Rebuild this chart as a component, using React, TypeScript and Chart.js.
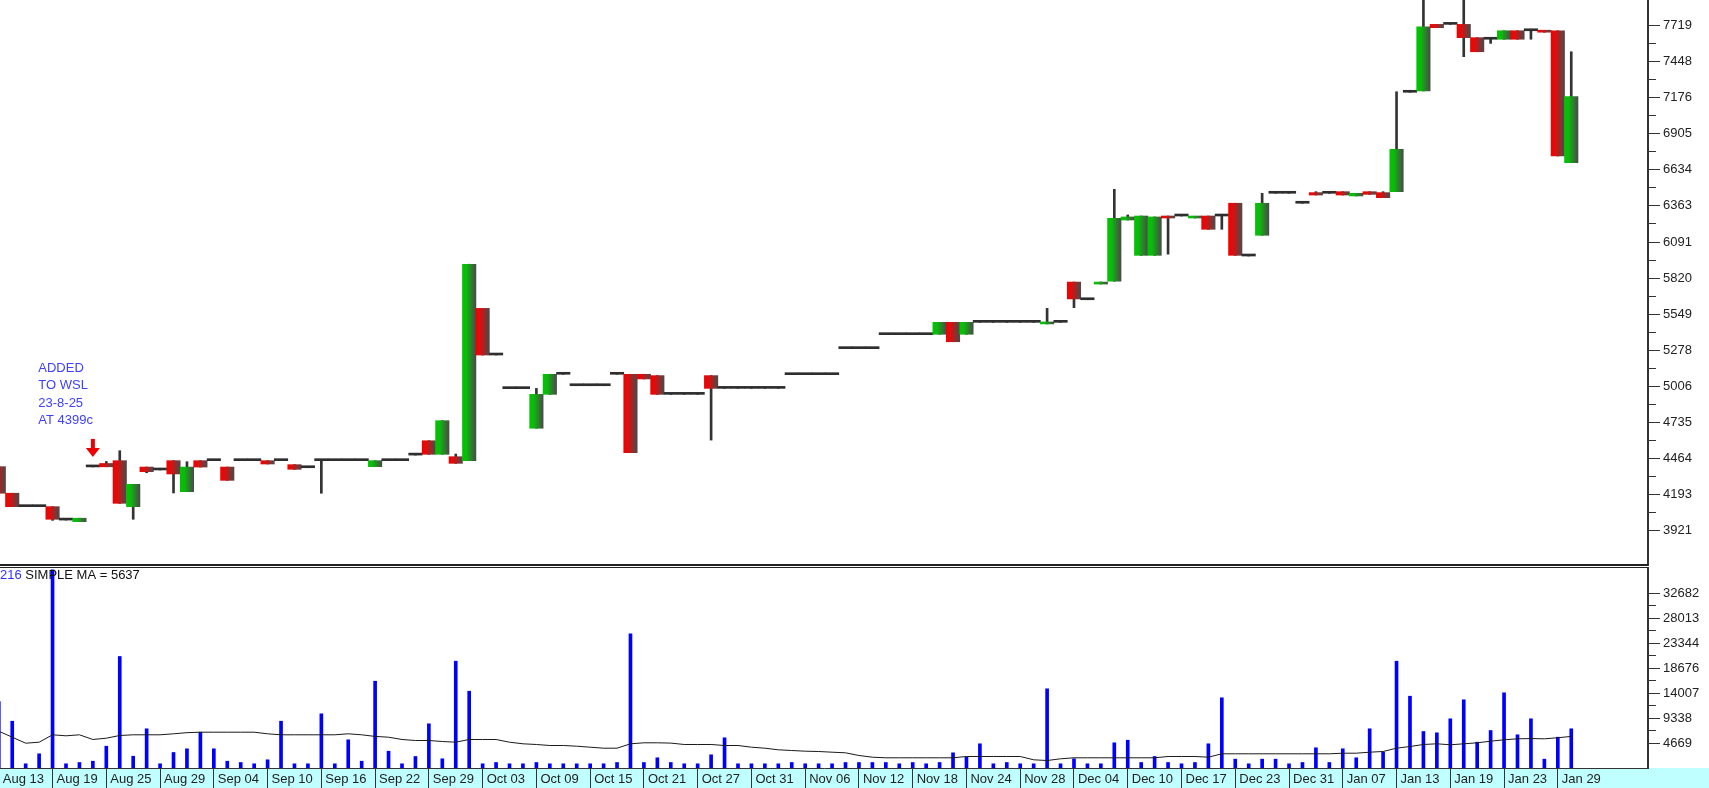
import React, { useEffect, useRef } from 'react';
import { Chart, registerables } from 'chart.js';

Chart.register(...registerables);

// ---------- DATA ----------
const dates = [
  'Aug 13', 'Aug 14', 'Aug 15', 'Aug 18', 'Aug 19', 'Aug 20', 'Aug 21', 'Aug 22', 'Aug 25', 'Aug 26', 'Aug 27', 'Aug 28', 'Aug 29',
  'Sep 01', 'Sep 02', 'Sep 03', 'Sep 04', 'Sep 05', 'Sep 08', 'Sep 09', 'Sep 10', 'Sep 11', 'Sep 12', 'Sep 15', 'Sep 16', 'Sep 17', 'Sep 18', 'Sep 19', 'Sep 22', 'Sep 23', 'Sep 25', 'Sep 26', 'Sep 29', 'Sep 30',
  'Oct 01', 'Oct 02', 'Oct 03', 'Oct 06', 'Oct 07', 'Oct 08', 'Oct 09', 'Oct 10', 'Oct 13', 'Oct 14', 'Oct 15', 'Oct 16', 'Oct 17', 'Oct 20', 'Oct 21', 'Oct 22', 'Oct 23', 'Oct 24', 'Oct 27', 'Oct 28', 'Oct 29', 'Oct 30', 'Oct 31',
  'Nov 03', 'Nov 04', 'Nov 05', 'Nov 06', 'Nov 07', 'Nov 10', 'Nov 11', 'Nov 12', 'Nov 13', 'Nov 14', 'Nov 17', 'Nov 18', 'Nov 19', 'Nov 20', 'Nov 21', 'Nov 24', 'Nov 25', 'Nov 26', 'Nov 27', 'Nov 28',
  'Dec 01', 'Dec 02', 'Dec 03', 'Dec 04', 'Dec 05', 'Dec 08', 'Dec 09', 'Dec 10', 'Dec 11', 'Dec 12', 'Dec 15', 'Dec 17', 'Dec 18', 'Dec 19', 'Dec 22', 'Dec 23', 'Dec 24', 'Dec 29', 'Dec 30', 'Dec 31',
  'Jan 02', 'Jan 05', 'Jan 06', 'Jan 07', 'Jan 08', 'Jan 09', 'Jan 12', 'Jan 13', 'Jan 14', 'Jan 15', 'Jan 16', 'Jan 19', 'Jan 20', 'Jan 21', 'Jan 22', 'Jan 23', 'Jan 26', 'Jan 27', 'Jan 28', 'Jan 29', 'Jan 30',
];

const opens = [
  4401, 4201, 4100, 4100, 4100, 3999, 3987, 4399, 4425, 4446, 4100, 4398, 4376,
  4446, 4213, 4446, 4446, 4398, 4446, 4446, 4446, 4446, 4416, 4393, 4446, 4446, 4446, 4446, 4401, 4446, 4446, 4488, 4596, 4494,
  4476, 4446, 5592, 5241, 4988, 4988, 4690, 4945, 5096, 5010, 5010, 5010, 5096, 5096, 5096, 5086, 4945, 4945, 4945, 5086, 4990, 4990, 4990,
  4990, 4990, 5093, 5093, 5093, 5093, 5289, 5289, 5289, 5394, 5394, 5394, 5394, 5397, 5487, 5397, 5487, 5487, 5487, 5487,
  5487, 5475, 5487, 5790, 5657, 5775, 5796, 6257, 5991, 5991, 6287, 6287, 6272, 6287, 6287, 6383, 5986, 6142, 6458, 6458,
  6383, 6463, 6458, 6470, 6438, 6470, 6463, 6470, 7218, 7228, 7729, 7729, 7729, 7629, 7617, 7617, 7681, 7681, 7681, 7681, 6688,
];
const highs = [
  4401, 4201, 4100, 4100, 4100, 3999, 4013, 4399, 4440, 4521, 4268, 4398, 4376,
  4446, 4438, 4446, 4446, 4398, 4446, 4446, 4446, 4446, 4416, 4393, 4446, 4446, 4446, 4446, 4446, 4446, 4446, 4488, 4596, 4747,
  4496, 5924, 5592, 5241, 4988, 4988, 4990, 5096, 5096, 5010, 5010, 5010, 5096, 5096, 5096, 5086, 4945, 4945, 4945, 5086, 4990, 4990, 4990,
  4990, 4990, 5093, 5093, 5093, 5093, 5289, 5289, 5289, 5394, 5394, 5394, 5394, 5487, 5487, 5487, 5487, 5487, 5487, 5487,
  5487, 5592, 5487, 5790, 5657, 5790, 6488, 6295, 6287, 6280, 6287, 6287, 6285, 6287, 6287, 6383, 5986, 6458, 6458, 6458,
  6383, 6470, 6458, 6470, 6458, 6470, 6470, 7222, 7218, 7990, 7729, 7729, 7990, 7629, 7617, 7681, 7681, 7681, 7681, 7681, 7523,
];
const lows = [
  4201, 4100, 4100, 4100, 3997, 3999, 3987, 4399, 4400, 4125, 4005, 4355, 4376,
  4203, 4213, 4398, 4446, 4298, 4446, 4446, 4421, 4446, 4381, 4393, 4201, 4446, 4446, 4446, 4401, 4446, 4446, 4488, 4494, 4494,
  4426, 4446, 5241, 5241, 4988, 4988, 4690, 4945, 5096, 5010, 5010, 5010, 5096, 4506, 5061, 4945, 4945, 4945, 4945, 4601, 4990, 4990, 4990,
  4990, 4990, 5093, 5093, 5093, 5093, 5289, 5289, 5289, 5394, 5394, 5394, 5394, 5397, 5341, 5397, 5487, 5487, 5487, 5487,
  5487, 5475, 5487, 5597, 5657, 5775, 5796, 6257, 5991, 5991, 6000, 6287, 6272, 6187, 6187, 5991, 5986, 6142, 6458, 6458,
  6383, 6445, 6458, 6445, 6438, 6450, 6425, 6470, 7218, 7228, 7704, 7729, 7486, 7523, 7586, 7617, 7617, 7617, 7670, 6739, 6688,
];
const closes = [
  4201, 4100, 4100, 4100, 4005, 3999, 4013, 4399, 4400, 4125, 4268, 4363, 4376,
  4346, 4398, 4398, 4446, 4298, 4446, 4446, 4421, 4446, 4381, 4393, 4446, 4446, 4446, 4446, 4446, 4446, 4446, 4488, 4494, 4747,
  4426, 5924, 5241, 5241, 4988, 4988, 4945, 5096, 5096, 5010, 5010, 5010, 5096, 4506, 5061, 4945, 4945, 4945, 4945, 4990, 4990, 4990, 4990,
  4990, 4990, 5093, 5093, 5093, 5093, 5289, 5289, 5289, 5394, 5394, 5394, 5394, 5487, 5341, 5487, 5487, 5487, 5487, 5487,
  5487, 5487, 5487, 5663, 5657, 5790, 6270, 6280, 6287, 6280, 6272, 6287, 6285, 6187, 6287, 5991, 5986, 6383, 6458, 6458,
  6383, 6445, 6458, 6445, 6458, 6450, 6425, 6789, 7218, 7711, 7704, 7729, 7629, 7523, 7617, 7681, 7617, 7681, 7670, 6739, 7185,
];

const volumes = [
  12420, 8740, 784, 2652, 37000, 784, 1027, 1270, 4071, 20824, 2204, 7321, 784,
  2895, 3586, 6686, 3586, 1270, 1027, 784, 1531, 8740, 784, 784, 10122, 784, 5267, 1270, 16211, 3138, 784, 2148, 8255, 1718,
  19946, 14343, 784, 1027, 784, 784, 1027, 784, 784, 784, 784, 784, 1027, 25063, 1027, 1905, 1027, 784, 784, 2465, 5640, 784, 784,
  784, 784, 1027, 784, 784, 784, 1027, 1027, 1027, 1027, 784, 1027, 784, 1027, 2839, 2017, 4520, 784, 1027, 784,
  784, 14791, 784, 1718, 784, 784, 4706, 5192, 1027, 2148, 1027, 784, 1027, 4520, 13110, 1650, 784, 1650, 1650, 784,
  1027, 3772, 1027, 3586, 1905, 7321, 2951, 19946, 13409, 6817, 6574, 9188, 12737, 4818, 7004, 14044, 6200, 9188, 1650, 5752, 7321,
];

const volumeMA = [
  6873, 5752, 4632, 4818, 6200, 6014, 6200, 5323, 5566, 6070, 6200, 6200, 6200,
  6387, 6600, 6686, 6686, 6686, 6686, 6686, 6387, 6200, 6200, 6200, 6200, 6200, 6387, 6200, 5900, 5752, 5323, 5136, 5136, 4949,
  4818, 5323, 5323, 5323, 4818, 4520, 4389, 4202, 4202, 4071, 3885, 3698, 3698, 4520, 4706, 4706, 4650, 4389, 4389, 4389, 4202, 4202, 3885,
  3698, 3399, 3268, 3137, 3080, 2951, 2839, 2335, 2017, 1905, 1905, 1905, 1905, 1905, 1905, 2148, 2148, 2148, 2148, 2148,
  1531, 1400, 1718, 1905, 1905, 1905, 1905, 1905, 1905, 1905, 2148, 2148, 2148, 2017, 2652, 2652, 2652, 2652, 2652, 2652,
  2652, 2652, 2652, 2764, 2764, 2951, 3082, 3698, 4015, 4389, 4520, 4333, 4520, 4706, 5005, 5267, 5450, 5500, 5450, 5650, 5900,
];

const xTickIndex = [0, 4, 8, 12, 16, 20, 24, 28, 32, 36, 40, 44, 48, 52, 56, 60, 64, 68, 72, 76, 80, 84, 88, 92, 96, 100, 104, 108, 112, 116];
const xTickLabels = [
  'Aug 13', 'Aug 19', 'Aug 25', 'Aug 29', 'Sep 04', 'Sep 10', 'Sep 16', 'Sep 22', 'Sep 29', 'Oct 03',
  'Oct 09', 'Oct 15', 'Oct 21', 'Oct 27', 'Oct 31', 'Nov 06', 'Nov 12', 'Nov 18', 'Nov 24', 'Nov 28',
  'Dec 04', 'Dec 10', 'Dec 17', 'Dec 23', 'Dec 31', 'Jan 07', 'Jan 13', 'Jan 19', 'Jan 23', 'Jan 29',
];
const priceTickLabels = ['3921', '4193', '4464', '4735', '5006', '5278', '5549', '5820', '6091', '6363', '6634', '6905', '7176', '7448', '7719'];
const volumeTickLabels = ['4669', '9338', '14007', '18676', '23344', '28013', '32682'];

const noteIndex = 7;
const noteLines = ['ADDED', 'TO WSL', '23-8-25', 'AT 4399c'];
const volumeHeadValue = '216';
const volumeHeadText = ' SIMPLE MA = 5637';

// ---------- LAYOUT ----------
const W = 1709;
const PRICE_H = 566;
const VOL_H = 222;
const AXIS_W = 61;
const X_MIN = 0.0893;
const X_MAX = 122.71;
const PRICE_MIN = 3653.5;
const PRICE_MAX = 7912.4;
const VOL_MAX = 37352;
const FONT = '"Liberation Sans", Arial, Helvetica, sans-serif';
const AXIS_COLOR = '#333333';
const LABEL_COLOR = '#222222';

function axisTicks(labels: string[]) {
  const vals = labels.map(Number);
  const out: any[] = [];
  for (let i = 0; i < vals.length; i++) {
    out.push({ value: vals[i], lbl: labels[i] });
    if (i < vals.length - 1) out.push({ value: (vals[i] + vals[i + 1]) / 2, lbl: '' });
  }
  return out;
}

function bodyColor(c: any) {
  const i = c.dataIndex;
  if (i === undefined || i === null) return '#333333';
  const o = opens[i];
  const cl = closes[i];
  if (o === cl) return '#2e2e2e';
  const up = cl > o;
  const xs = c.chart.scales && c.chart.scales.x;
  if (!xs) return up ? '#00b400' : '#e00000';
  const cx = xs.getPixelForValue(i);
  const hw = Math.abs(xs.getPixelForValue(i + 0.5) - cx);
  if (!isFinite(cx) || !isFinite(hw) || hw <= 0) return up ? '#00b400' : '#e00000';
  const g = c.chart.ctx.createLinearGradient(cx - hw, 0, cx + hw, 0);
  if (up) {
    g.addColorStop(0, '#00c400');
    g.addColorStop(0.3, '#0cba0c');
    g.addColorStop(1, '#4a4a4a');
  } else {
    g.addColorStop(0, '#f20000');
    g.addColorStop(0.3, '#e20c0c');
    g.addColorStop(1, '#4a4a4a');
  }
  return g;
}

function yAxis(min: number, max: number, labels: string[]) {
  const ticks = axisTicks(labels);
  return {
    position: 'right',
    min,
    max,
    afterBuildTicks: (s: any) => {
      s.ticks = ticks.map((t) => ({ ...t }));
    },
    afterFit: (s: any) => {
      s.width = AXIS_W;
      s.paddingTop = 0;
      s.paddingBottom = 0;
    },
    ticks: {
      autoSkip: false,
      padding: 3,
      color: LABEL_COLOR,
      font: { family: FONT, size: 13 },
      callback: (_v: any, i: number, t: any[]) => (t[i] && t[i].lbl) || '',
    },
    grid: {
      offset: false,
      drawOnChartArea: false,
      drawTicks: true,
      tickLength: 12,
      tickColor: AXIS_COLOR,
      tickWidth: 1,
      tickBorderDash: (c: any) => (c.tick && c.tick.lbl ? [] : [7, 100]),
    },
    border: { display: true, color: AXIS_COLOR, width: 2 },
  };
}

const priceFramePlugin = {
  id: 'priceFrame',
  afterDraw(chart: any) {
    const { ctx, chartArea } = chart;
    ctx.save();
    ctx.fillStyle = '#222';
    ctx.fillRect(0, chartArea.bottom - 2, chartArea.right, 2);
    ctx.restore();
  },
};

const notePlugin = {
  id: 'wslNote',
  afterDatasetsDraw(chart: any) {
    const { ctx } = chart;
    const xs = chart.scales.x;
    const ys = chart.scales.y;
    const ax = xs.getPixelForValue(noteIndex);
    const tipY = ys.getPixelForValue(closes[noteIndex]) - 10;
    ctx.save();
    ctx.fillStyle = '#ee0000';
    ctx.fillRect(ax - 2, tipY - 18, 4, 10);
    ctx.beginPath();
    ctx.moveTo(ax - 7, tipY - 9);
    ctx.lineTo(ax + 7, tipY - 9);
    ctx.lineTo(ax, tipY);
    ctx.closePath();
    ctx.fill();
    ctx.fillStyle = '#4040ff';
    ctx.font = `13px ${FONT}`;
    ctx.textAlign = 'left';
    ctx.textBaseline = 'middle';
    noteLines.forEach((t, k) => ctx.fillText(t, ax - 54.6, tipY - 89 + k * 17.6));
    ctx.restore();
  },
};

const volumeDecorPlugin = {
  id: 'volDecor',
  beforeDraw(chart: any) {
    const { ctx, chartArea, width, height } = chart;
    ctx.save();
    ctx.fillStyle = '#c0ffff';
    ctx.fillRect(0, chartArea.bottom, width, height - chartArea.bottom);
    ctx.restore();
  },
  afterDraw(chart: any) {
    const { ctx, chartArea } = chart;
    ctx.save();
    ctx.fillStyle = '#222';
    ctx.fillRect(0, chartArea.top - 1, chartArea.right, 1);
    ctx.font = `13px ${FONT}`;
    ctx.textAlign = 'left';
    ctx.textBaseline = 'middle';
    const ty = chartArea.top + 7;
    ctx.fillStyle = '#3030ff';
    ctx.fillText(volumeHeadValue, 0, ty);
    const w = ctx.measureText(volumeHeadValue).width;
    ctx.fillStyle = '#111';
    ctx.fillText(volumeHeadText, w, ty);
    ctx.restore();
  },
};

const xBase = { type: 'linear', min: X_MIN, max: X_MAX, offset: false, bounds: 'data' };

export default function App() {
  const priceRef = useRef<HTMLCanvasElement>(null);
  const volRef = useRef<HTMLCanvasElement>(null);

  useEffect(() => {
    const idx = dates.map((_, i) => i);
    const priceChart = new Chart(priceRef.current as HTMLCanvasElement, {
      type: 'bar',
      data: {
        datasets: [
          {
            label: 'wick',
            data: idx.map((i) => ({ x: i, y: [lows[i], highs[i]] })) as any,
            backgroundColor: '#333333',
            borderWidth: 0,
            barThickness: 2,
            grouped: false,
            order: 2,
          } as any,
          {
            label: 'body',
            data: idx.map((i) => ({ x: i, y: [opens[i], closes[i]] })) as any,
            backgroundColor: bodyColor,
            borderWidth: 0,
            barPercentage: 1,
            categoryPercentage: 1,
            minBarLength: 2,
            grouped: false,
            order: 1,
          } as any,
        ],
      },
      options: {
        animation: false,
        responsive: false,
        maintainAspectRatio: false,
        devicePixelRatio: 1,
        layout: { padding: 0 },
        events: [],
        plugins: { legend: { display: false }, tooltip: { enabled: false } },
        scales: {
          x: { ...xBase, display: false, grid: { offset: false } },
          y: yAxis(PRICE_MIN, PRICE_MAX, priceTickLabels) as any,
        },
      } as any,
      plugins: [priceFramePlugin, notePlugin],
    });

    const volChart = new Chart(volRef.current as HTMLCanvasElement, {
      type: 'bar',
      data: {
        datasets: [
          {
            type: 'line',
            label: 'MA',
            data: idx.map((i) => ({ x: i, y: volumeMA[i] })) as any,
            borderColor: '#1a1a1a',
            borderWidth: 1,
            pointRadius: 0,
            tension: 0,
            order: 0,
          } as any,
          {
            type: 'bar',
            label: 'Volume',
            data: idx.map((i) => ({ x: i, y: volumes[i] })) as any,
            backgroundColor: '#0000ff',
            borderWidth: 0,
            barThickness: 3,
            order: 1,
          } as any,
        ],
      },
      options: {
        animation: false,
        responsive: false,
        maintainAspectRatio: false,
        devicePixelRatio: 1,
        layout: { padding: { top: 2, left: 0, right: 0, bottom: 0 } },
        events: [],
        plugins: { legend: { display: false }, tooltip: { enabled: false } },
        scales: {
          x: {
            ...xBase,
            position: 'bottom',
            afterBuildTicks: (s: any) => {
              s.ticks = xTickIndex.map((v, k) => ({ value: v, lbl: xTickLabels[k] }));
            },
            afterFit: (s: any) => {
              s.height = 20;
              s.paddingLeft = 0;
              s.paddingRight = 0;
            },
            ticks: {
              autoSkip: false,
              maxRotation: 0,
              minRotation: 0,
              align: 'start',
              labelOffset: 4,
              padding: -16,
              color: LABEL_COLOR,
              font: { family: FONT, size: 13 },
              callback: (_v: any, i: number, t: any[]) => (t[i] && t[i].lbl) || '',
            },
            grid: {
              offset: false,
              drawOnChartArea: false,
              drawTicks: true,
              tickLength: 20,
              tickColor: AXIS_COLOR,
              tickWidth: 1,
            },
            border: { display: true, color: AXIS_COLOR, width: 1 },
          },
          y: yAxis(0, VOL_MAX, volumeTickLabels) as any,
        },
      } as any,
      plugins: [volumeDecorPlugin],
    });

    return () => {
      priceChart.destroy();
      volChart.destroy();
    };
  }, []);

  return (
    <div style={{ position: 'absolute', left: 0, top: 0, width: W, height: PRICE_H + VOL_H, background: '#ffffff' }}>
      <canvas
        ref={priceRef}
        width={W}
        height={PRICE_H}
        style={{ position: 'absolute', left: 0, top: 0, width: W, height: PRICE_H, display: 'block' }}
      />
      <canvas
        ref={volRef}
        width={W}
        height={VOL_H}
        style={{ position: 'absolute', left: 0, top: PRICE_H, width: W, height: VOL_H, display: 'block' }}
      />
    </div>
  );
}
